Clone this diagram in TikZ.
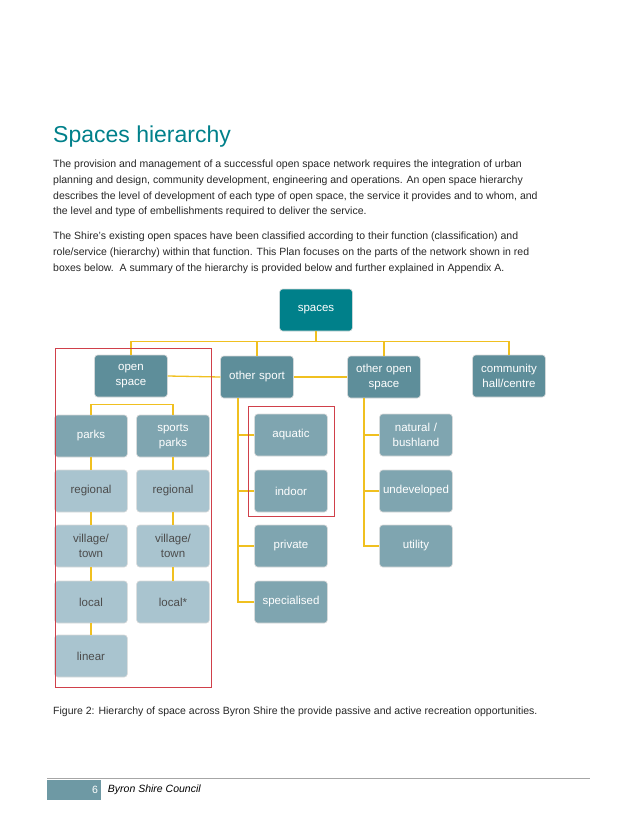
\documentclass[tikz,border=0pt]{standalone}
\usepackage{fontspec}
\setmainfont{Liberation Sans}
\usetikzlibrary{positioning}
\definecolor{teal1}{HTML}{00808A}
\definecolor{mid1}{HTML}{5E8E9A}
\definecolor{mid2}{HTML}{7FA5B0}
\definecolor{light1}{HTML}{A9C4CF}
\definecolor{link}{HTML}{F0C020}
\definecolor{frame}{HTML}{D0404A}
\tikzset{
  box/.style={rounded corners=3pt, minimum width=69pt, minimum height=42pt, text width=66pt,
    align=center, text=white, font=\fontsize{11.5}{15}\selectfont, draw=white!70!gray, line width=0.6pt},
  topbox/.style={box, fill=teal1},
  catbox/.style={box, fill=mid1},
  subbox/.style={box, fill=mid2},
  leafbox/.style={box, fill=light1, text=black!70},
  wire/.style={draw=link, line width=1.3pt},
  redframe/.style={draw=frame, line width=0.8pt},
  para/.style={anchor=north west, align=left, inner sep=0pt,
    font=\fontsize{10.5}{15.7}\selectfont, text=black!85}
}
\begin{document}
\begin{tikzpicture}[x=1pt, y=-1pt]
			\useasboundingbox (0,0) rectangle (637,824);
			
			% heading and text
			\node[anchor=west, inner sep=0pt, text=teal1, font=\fontsize{23}{26}\selectfont] (title) at (53,137) {Spaces hierarchy};
			\node[para] (intro) at (53,160) {The provision and management of a successful open space network requires the integration of urban\\planning and design, community development, engineering and operations. An open space hierarchy\\describes the level of development of each type of open space, the service it provides and to whom, and\\the level and type of embellishments required to deliver the service.};
			\node[para] (scope) at (53,232) {The Shire's existing open spaces have been classified according to their function (classification) and\\role/service (hierarchy) within that function. This Plan focuses on the parts of the network shown in red\\boxes below.\ \ A summary of the hierarchy is provided below and further explained in Appendix A.};
			
			% hierarchy boxes
			\node[topbox] (spaces) at (316,310) {spaces};
			\node[catbox] (open) at (131,376) {open\\space};
			\node[catbox] (sport) at (257,377) {other sport};
			\node[catbox] (otheropen) at (384,377) {other open\\space};
			\node[catbox] (hall) at (509,376) {community\\hall/centre};
			
			\node[subbox] (parks) at (91,436) {parks};
			\node[subbox] (sportparks) at (173,436) {sports\\parks};
			\node[leafbox] (regA) at (91,491) {regional};
			\node[leafbox] (regB) at (173,491) {regional};
			\node[leafbox] (villA) at (91,546) {village/\\town};
			\node[leafbox] (villB) at (173,546) {village/\\town};
			\node[leafbox] (locA) at (91,602) {local};
			\node[leafbox] (locB) at (173,602) {local*};
			\node[leafbox] (linear) at (91,656) {linear};
			
			\node[subbox] (aquatic) at (291,435) {aquatic};
			\node[subbox] (indoor) at (291,491) {indoor};
			\node[subbox] (private) at (291,546) {private};
			\node[subbox] (special) at (291,602) {specialised};
			
			\node[subbox] (natural) at (416,435) {natural /\\bushland};
			\node[subbox] (undev) at (416,491) {undeveloped};
			\node[subbox] (utility) at (416,546) {utility};
			
			% connectors
			\draw[wire] (spaces.south) -- ++(0,10) coordinate (bus);
			\draw[wire] (open.north) |- (bus) -| (hall.north);
			\draw[wire] (sport.north) -- (sport.north |- bus);
			\draw[wire] (otheropen.north) -- (otheropen.north |- bus);
			\draw[wire] (open.east) -- (sport.west);
			\draw[wire] (sport.east) -- (otheropen.west);
			\draw[wire] (parks.north) -- ++(0,-10) -| (sportparks.north);
			\draw[wire] (parks) -- (regA) -- (villA) -- (locA) -- (linear);
			\draw[wire] (sportparks) -- (regB) -- (villB) -- (locB);
			\coordinate (sportx) at ([xshift=-19pt]sport.south);
			\draw[wire] (sportx) |- (special.west);
			\foreach \n in {aquatic, indoor, private}
			  \draw[wire] (\n.west) -- (\n.west -| sportx);
			\coordinate (openx) at ([xshift=-20pt]otheropen.south);
			\draw[wire] (openx) |- (utility.west);
			\foreach \n in {natural, undev}
			  \draw[wire] (\n.west) -- (\n.west -| openx);
			
			% red frames
			\draw[redframe] (55,348) rectangle (211,687);
			\draw[redframe] (248,406) rectangle (334,516);
			
			% caption
			\node[anchor=west, inner sep=0pt, font=\fontsize{10.5}{12}\selectfont, text=black!85] (caption) at (53,712) {Figure 2: Hierarchy of space across Byron Shire the provide passive and active recreation opportunities.};
			
			% footer
			\draw[gray!70, line width=0.7pt] (47,778) -- (590,778);
			\node[fill=mid1!90, minimum width=54pt, minimum height=20pt, inner sep=0pt, anchor=north west] (pagebox) at (47,780) {};
			\node[anchor=east, text=white, font=\fontsize{10.5}{12}\selectfont] (pagenum) at (pagebox.east) {6};
			\node[anchor=west, font=\fontsize{10.5}{12}\selectfont\itshape] (council) at ([xshift=3pt]pagebox.east) {Byron Shire Council};
			\end{tikzpicture}
\end{document}
